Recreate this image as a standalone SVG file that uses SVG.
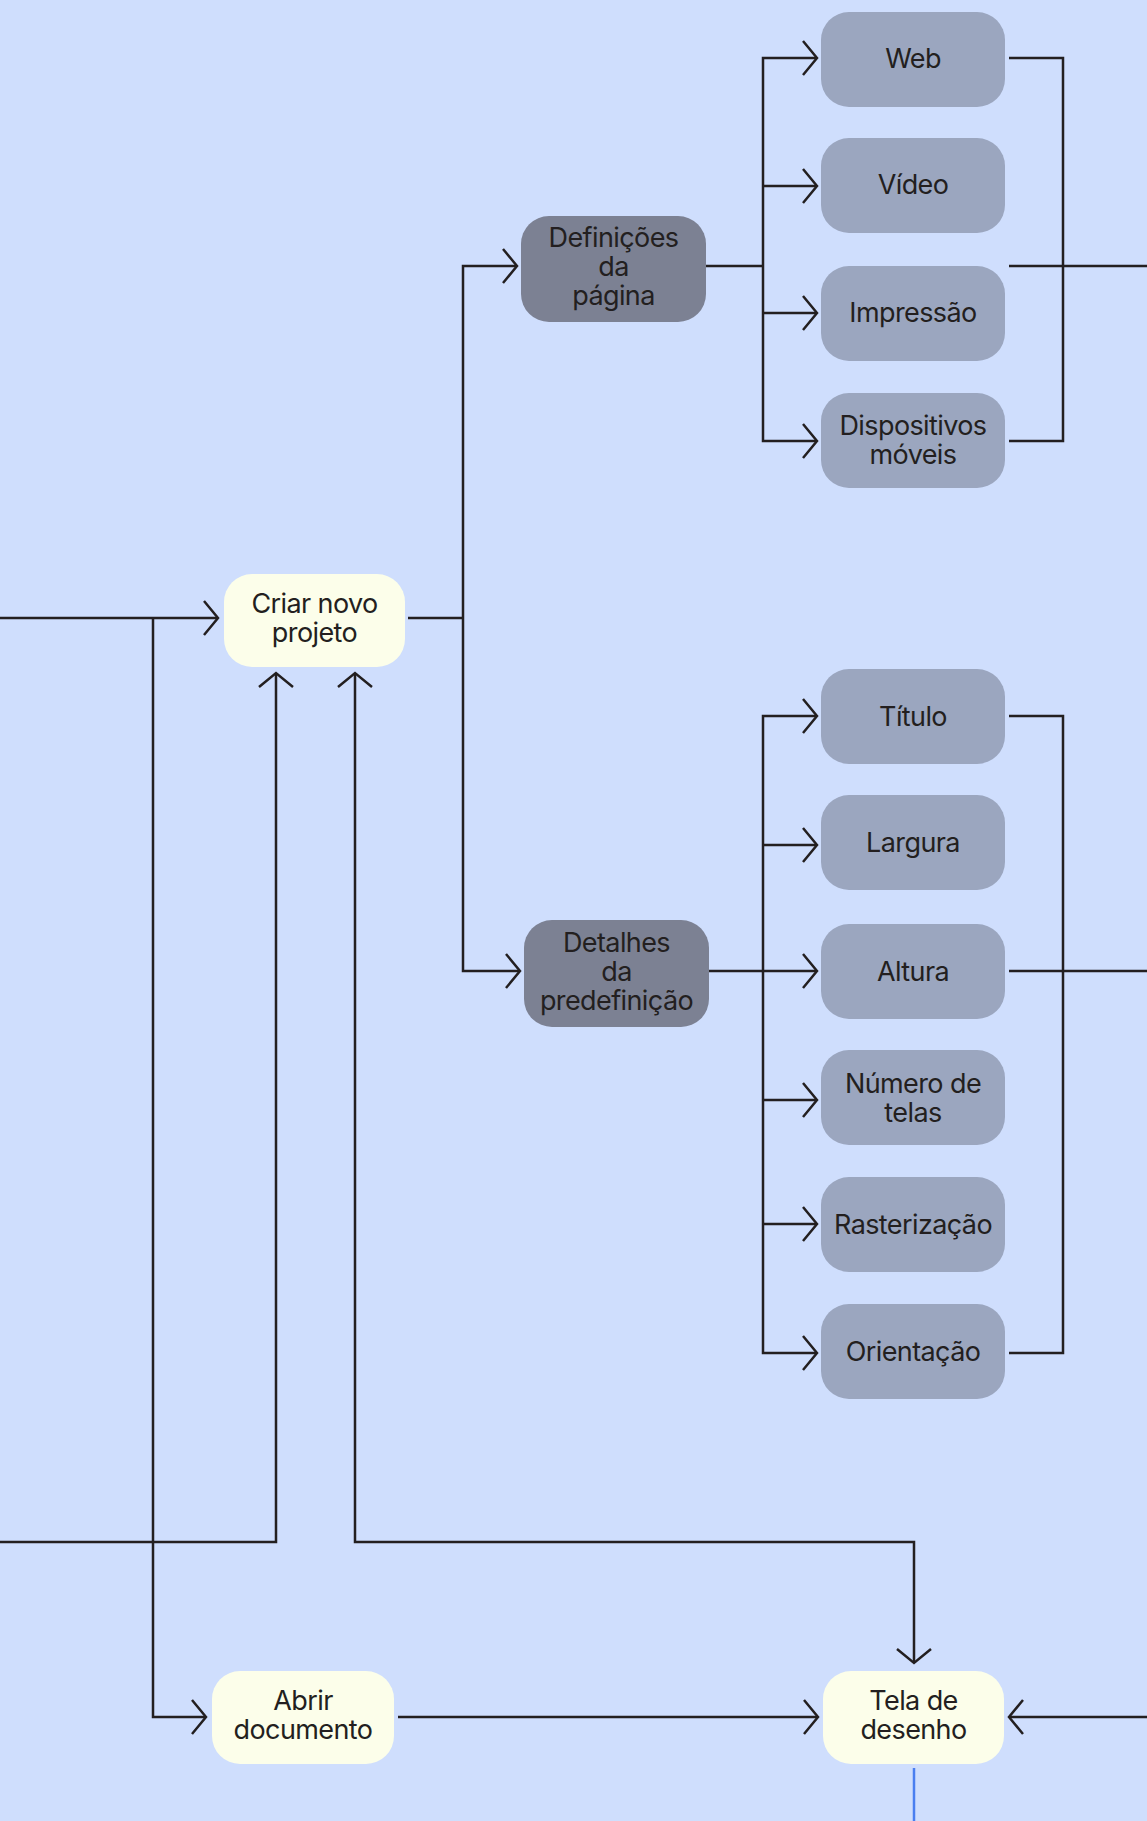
<svg xmlns="http://www.w3.org/2000/svg" width="1147" height="1821" viewBox="0 0 1147 1821">
<style>
.bg{fill:#cfdefd}
.cream{fill:#fcfeea}
.mid{fill:#9ba6bf}
.dark{fill:#7c8193}
.t{font-family:Inter,"Liberation Sans",sans-serif;font-size:27px;fill:#231f20;text-anchor:middle;letter-spacing:-0.6px}
.c{fill:none;stroke:#231f20;stroke-width:2.5}
.blue{fill:none;stroke:#4a7ef0;stroke-width:2.5}
</style>
<defs>
<marker id="ah" markerWidth="40" markerHeight="40" refX="20" refY="20" orient="auto-start-reverse" markerUnits="userSpaceOnUse" viewBox="0 0 40 40" overflow="visible">
<path d="M6,3 L20,20 L6,37" fill="none" stroke="#231f20" stroke-width="2.5"/>
</marker>
</defs>
<rect class="bg" x="0" y="0" width="1147" height="1821"/>
<g id="connectors">
<path class="c" d="M0,618 H218" marker-end="url(#ah)"/>
<path class="c" d="M153,618 V1717 H206" marker-end="url(#ah)"/>
<path class="c" d="M408,618 H463"/>
<path class="c" d="M463,618 V266 H517" marker-end="url(#ah)"/>
<path class="c" d="M463,618 V971 H520" marker-end="url(#ah)"/>
<path class="c" d="M706,266 H763"/>
<path class="c" d="M763,266 V58 H817" marker-end="url(#ah)"/>
<path class="c" d="M763,186 H817" marker-end="url(#ah)"/>
<path class="c" d="M763,266 V441 H817" marker-end="url(#ah)"/>
<path class="c" d="M763,313 H817" marker-end="url(#ah)"/>
<path class="c" d="M1009,58 H1063 V441 H1009"/>
<path class="c" d="M1009,266 H1147"/>
<path class="c" d="M709,971 H763"/>
<path class="c" d="M763,971 V716 H817" marker-end="url(#ah)"/>
<path class="c" d="M763,845 H817" marker-end="url(#ah)"/>
<path class="c" d="M763,971 H817" marker-end="url(#ah)"/>
<path class="c" d="M763,971 V1353 H817" marker-end="url(#ah)"/>
<path class="c" d="M763,1100 H817" marker-end="url(#ah)"/>
<path class="c" d="M763,1224 H817" marker-end="url(#ah)"/>
<path class="c" d="M1009,716 H1063 V1353 H1009"/>
<path class="c" d="M1009,971 H1147"/>
<path class="c" d="M0,1542 H276 V673" marker-end="url(#ah)"/>
<path class="c" d="M355,673 V1542 H914 V1663" marker-start="url(#ah)" marker-end="url(#ah)"/>
<path class="c" d="M398,1717 H818" marker-end="url(#ah)"/>
<path class="c" d="M1147,1717 H1009" marker-end="url(#ah)"/>
<path class="blue" d="M914,1768 V1821"/>
</g>
<g id="criar"><rect class="cream" x="224" y="574" width="181" height="93" rx="28"/><text class="t" x="314.5" y="613">Criar novo</text><text class="t" x="314.5" y="642">projeto</text></g>
<g id="definicoes"><rect class="dark" x="521" y="216" width="185" height="106" rx="28"/><text class="t" x="613.5" y="247">Definições</text><text class="t" x="613.5" y="276">da</text><text class="t" x="613.5" y="305">página</text></g>
<g id="detalhes"><rect class="dark" x="524" y="920" width="185" height="107" rx="28"/><text class="t" x="616.5" y="952">Detalhes</text><text class="t" x="616.5" y="981">da</text><text class="t" x="616.5" y="1010">predefinição</text></g>
<g id="web"><rect class="mid" x="821" y="12" width="184" height="95" rx="28"/><text class="t" x="913" y="68">Web</text></g>
<g id="video"><rect class="mid" x="821" y="138" width="184" height="95" rx="28"/><text class="t" x="913" y="194">Vídeo</text></g>
<g id="impressao"><rect class="mid" x="821" y="266" width="184" height="95" rx="28"/><text class="t" x="913" y="322">Impressão</text></g>
<g id="dispositivos"><rect class="mid" x="821" y="393" width="184" height="95" rx="28"/><text class="t" x="913" y="435">Dispositivos</text><text class="t" x="913" y="464">móveis</text></g>
<g id="titulo"><rect class="mid" x="821" y="669" width="184" height="95" rx="28"/><text class="t" x="913" y="726">Título</text></g>
<g id="largura"><rect class="mid" x="821" y="795" width="184" height="95" rx="28"/><text class="t" x="913" y="852">Largura</text></g>
<g id="altura"><rect class="mid" x="821" y="924" width="184" height="95" rx="28"/><text class="t" x="913" y="981">Altura</text></g>
<g id="numero"><rect class="mid" x="821" y="1050" width="184" height="95" rx="28"/><text class="t" x="913" y="1093">Número de</text><text class="t" x="913" y="1122">telas</text></g>
<g id="rasterizacao"><rect class="mid" x="821" y="1177" width="184" height="95" rx="28"/><text class="t" x="913" y="1234">Rasterização</text></g>
<g id="orientacao"><rect class="mid" x="821" y="1304" width="184" height="95" rx="28"/><text class="t" x="913" y="1361">Orientação</text></g>
<g id="abrir"><rect class="cream" x="212" y="1671" width="182" height="93" rx="28"/><text class="t" x="303" y="1710">Abrir</text><text class="t" x="303" y="1739">documento</text></g>
<g id="tela"><rect class="cream" x="823" y="1671" width="181" height="93" rx="28"/><text class="t" x="913.5" y="1710">Tela de</text><text class="t" x="913.5" y="1739">desenho</text></g>
</svg>
